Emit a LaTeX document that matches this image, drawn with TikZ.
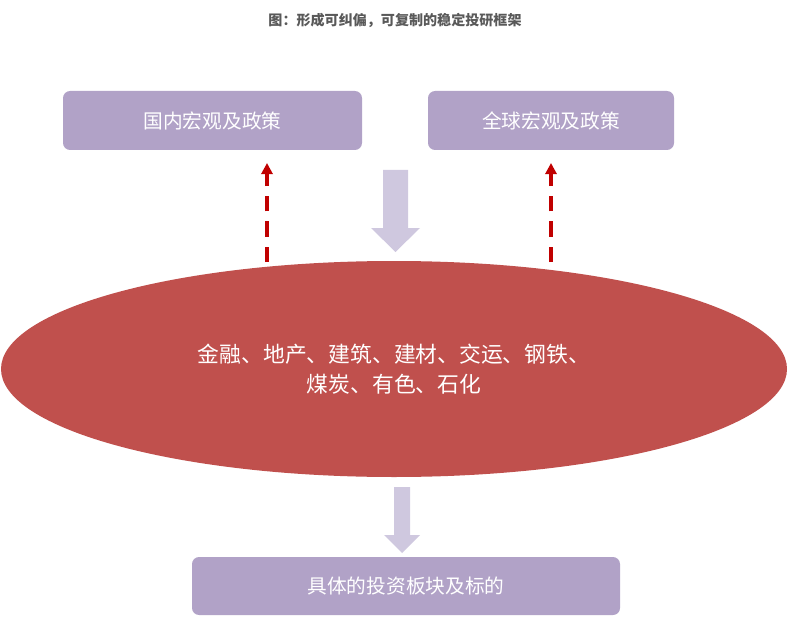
\documentclass[tikz,border=0pt]{standalone}
\usepackage{fontspec}
\setmainfont{Noto Sans CJK SC}
\usetikzlibrary{arrows.meta}
\definecolor{boxpurple}{HTML}{B1A2C7}
\definecolor{arrowlav}{HTML}{CFC8DF}
\definecolor{ovalred}{HTML}{C0504D}
\definecolor{dashred}{HTML}{C00000}
\definecolor{titlegray}{HTML}{595959}
\tikzset{
  box/.style={draw=none, fill=boxpurple, rounded corners=5pt, text=white,
    font=\fontsize{14pt}{17pt}\selectfont, inner sep=0pt},
  up arrow/.style={draw=dashred, line width=2.2pt, dash pattern=on 11pt off 7pt,
    -{Triangle[length=8pt,width=8pt]}},
  block/.style={fill=arrowlav, draw=none}
}
\begin{document}
\begin{tikzpicture}[x=0.025cm, y=-0.025cm]
  \useasboundingbox (0,0) rectangle (788,617);

  % Title
  \node[font=\bfseries\fontsize{10pt}{12pt}\selectfont, text=titlegray] (title) at (395,20)
    {图：形成可纠偏，可复制的稳定投研框架};

  % Boxes
  \node[box, minimum width=299*0.025cm, minimum height=59*0.025cm] (domestic) at (212.5,120.5) {国内宏观及政策};
  \node[box, minimum width=246*0.025cm, minimum height=59*0.025cm] (global) at (551,120.5) {全球宏观及政策};
  \node[box, minimum width=428*0.025cm, minimum height=58*0.025cm] (target) at (406,586) {具体的投资板块及标的};

  % Big block arrow
  \fill[block] (383,170) -- (408,170) -- (408,228) -- (420,228) -- (395.5,252)
    -- (371,228) -- (383,228) -- cycle;

  % Ellipse
  \fill[ovalred] (394,369) ellipse [x radius=393, y radius=108];
  \node[text=white, align=center, font=\fontsize{15.5pt}{21pt}\selectfont] (sectors) at (394,369)
    {金融、地产、建筑、建材、交运、钢铁、\\煤炭、有色、石化};

  % Feedback arrows
  \coordinate (fb1s) at (267,262);
  \coordinate (fb1e) at (267,163);
  \coordinate (fb2s) at (551,262);
  \coordinate (fb2e) at (551,163);
  \draw[up arrow] (fb1s) -- (fb1e);
  \draw[up arrow] (fb2s) -- (fb2e);

  % Small block arrow
  \fill[block] (394,487) -- (410,487) -- (410,535) -- (420,535) -- (402,553)
    -- (384,535) -- (394,535) -- cycle;
\end{tikzpicture}
\end{document}
